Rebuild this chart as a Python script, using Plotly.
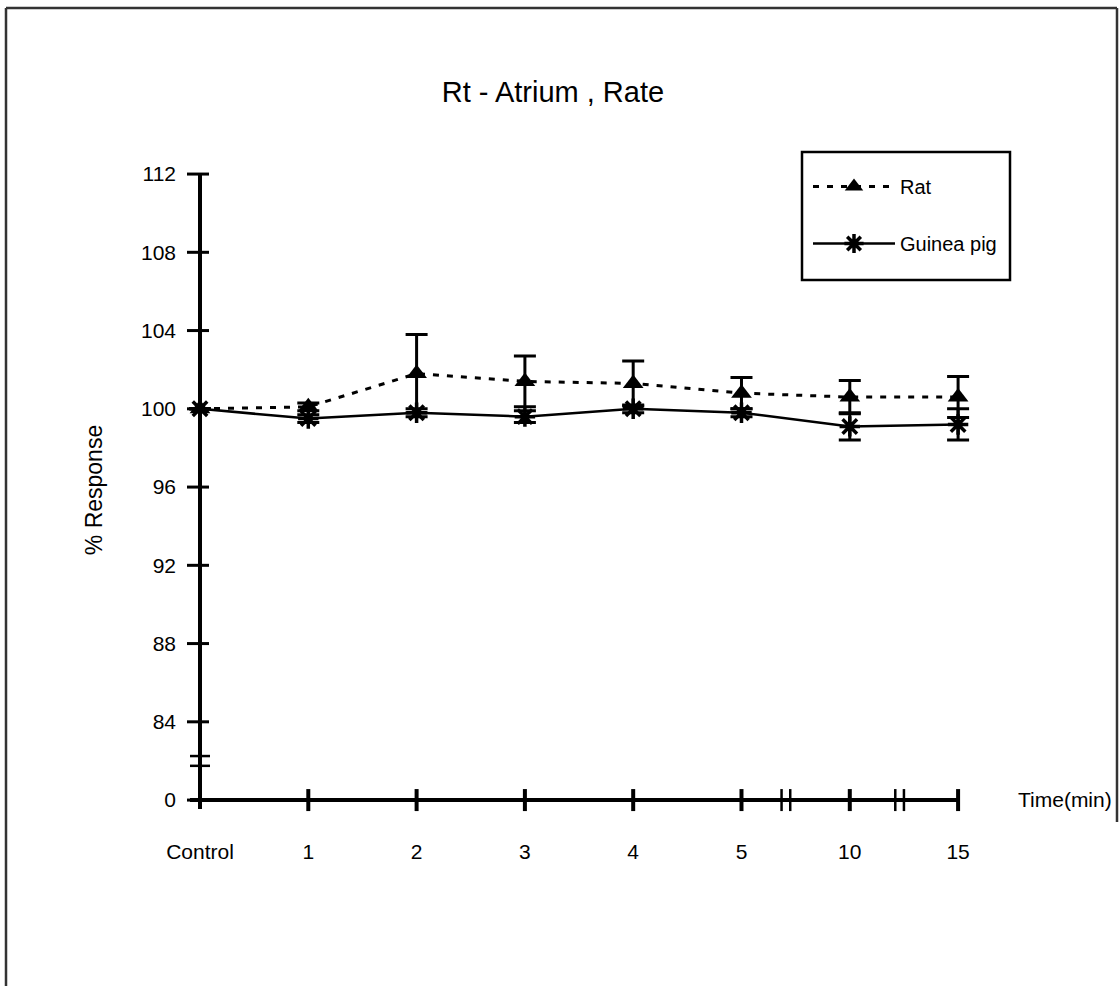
import plotly.graph_objects as go

# ---- data ----
categories = ["Control", "1", "2", "3", "4", "5", "10", "15"]
rat_mean = [100.0, 100.1, 101.8, 101.4, 101.3, 100.8, 100.6, 100.6]
rat_err = [0.0, 0.2, 2.0, 1.3, 1.15, 0.8, 0.85, 1.05]
gp_mean = [100.0, 99.5, 99.8, 99.6, 100.0, 99.8, 99.1, 99.2]
gp_err = [0.0, 0.2, 0.2, 0.3, 0.2, 0.2, 0.7, 0.8]
y_tickvals = [80, 84, 88, 92, 96, 100, 104, 108, 112]
y_ticktext = ["0", "84", "88", "92", "96", "100", "104", "108", "112"]

xpos = list(range(len(categories)))
FONT = "Liberation Sans, Arial, sans-serif"

fig = go.Figure()
fig.add_trace(go.Scatter(
    x=xpos, y=rat_mean, name="Rat", mode="lines+markers",
    line=dict(color="black", width=3, dash="6px,8px"),
    marker=dict(symbol="triangle-up", size=18, color="black"),
    error_y=dict(type="data", array=rat_err, color="black", thickness=3, width=11),
    legendgroup="a", cliponaxis=False,
))
fig.add_trace(go.Scatter(
    x=xpos, y=gp_mean, name="Guinea pig", mode="lines+markers",
    line=dict(color="black", width=2.5),
    marker=dict(symbol="asterisk-open", size=17, color="black",
                line=dict(color="black", width=3.5)),
    error_y=dict(type="data", array=gp_err, color="black", thickness=3, width=11),
    legendgroup="b", cliponaxis=False,
))

# plot area pixel geometry: x 150..1000, y 150..830
x0, x1 = -0.4617, 7.387
y0, y1 = 78.47, 113.23
pxu = 850 / (x1 - x0)
pyu = 680 / (y1 - y0)

shapes = []
AX = dict(color="black", width=4)
# y axis line
shapes.append(dict(type="line", xref="x", yref="y", x0=0, x1=0, y0=80 - 9 / pyu, y1=112, line=AX))
# x axis line
shapes.append(dict(type="line", xref="x", yref="y", x0=-10 / pxu, x1=7, y0=80, y1=80, line=AX))
# y tick crosses
for v in y_tickvals:
    shapes.append(dict(type="line", xref="x", yref="y", x0=-13 / pxu, x1=9 / pxu, y0=v, y1=v,
                       line=dict(color="black", width=3)))
# x tick crosses
for xv in xpos[1:]:
    shapes.append(dict(type="line", xref="x", yref="y", x0=xv, x1=xv, y0=80 - 11 / pyu, y1=80 + 11 / pyu,
                       line=dict(color="black", width=4)))
# y axis break marks
for yb in [81.75, 82.25]:
    shapes.append(dict(type="line", xref="x", yref="y", x0=-10 / pxu, x1=10 / pxu, y0=yb, y1=yb,
                       line=dict(color="black", width=2.5)))
# x axis break marks
for xb in [5.37, 5.45, 6.42, 6.50]:
    shapes.append(dict(type="line", xref="x", yref="y", x0=xb, x1=xb, y0=80 - 11 / pyu, y1=80 + 11 / pyu,
                       line=dict(color="black", width=2.5)))


# page frame (paper coords)
def px(xp):
    return (xp - 150) / 850


def py(yp):
    return (830 - yp) / 680


FR = dict(color="#333333", width=2.5)
shapes.append(dict(type="line", xref="paper", yref="paper", x0=px(6), x1=px(6), y0=py(8), y1=py(986), line=FR))
shapes.append(dict(type="line", xref="paper", yref="paper", x0=px(6), x1=px(1117), y0=py(8), y1=py(8), line=FR))
shapes.append(dict(type="line", xref="paper", yref="paper", x0=px(1117), x1=px(1117), y0=py(8), y1=py(822), line=FR))
# legend box
shapes.append(dict(type="rect", xref="paper", yref="paper", x0=px(802), x1=px(1010), y0=py(280), y1=py(152),
                   line=dict(color="black", width=2.5), fillcolor="rgba(0,0,0,0)"))

fig.update_layout(
    width=1119, height=986,
    margin=dict(l=150, r=119, t=150, b=156),
    paper_bgcolor="white", plot_bgcolor="white",
    font=dict(family=FONT, color="black", size=21),
    title=dict(text="Rt - Atrium , Rate", x=px(570), xanchor="center", y=1 - 92 / 986, yanchor="middle",
               font=dict(size=29, family=FONT)),
    showlegend=True,
    legend=dict(x=px(808), y=py(167), xanchor="left", yanchor="top",
                borderwidth=0, bgcolor="rgba(0,0,0,0)",
                traceorder="grouped", tracegroupgap=28,
                font=dict(size=20, family=FONT), itemwidth=82),
    xaxis=dict(range=[x0, x1], showgrid=False, zeroline=False, showline=False,
               tickvals=xpos, ticktext=categories, ticks="",
               anchor="free", position=py(800), ticklabelstandoff=37,
               tickfont=dict(size=21)),
    yaxis=dict(range=[y0, y1], showgrid=False, zeroline=False, showline=False,
               tickvals=y_tickvals, ticktext=y_ticktext, ticks="",
               anchor="free", position=px(200), ticklabelstandoff=24,
               title=dict(text="% Response", font=dict(size=23), standoff=30),
               tickfont=dict(size=21)),
    shapes=shapes,
    annotations=[dict(text="Time(min)", xref="paper", yref="paper", x=px(1016), y=py(799),
                      xanchor="left", yanchor="middle", showarrow=False, font=dict(size=21))],
)

fig.write_html("out.html")
